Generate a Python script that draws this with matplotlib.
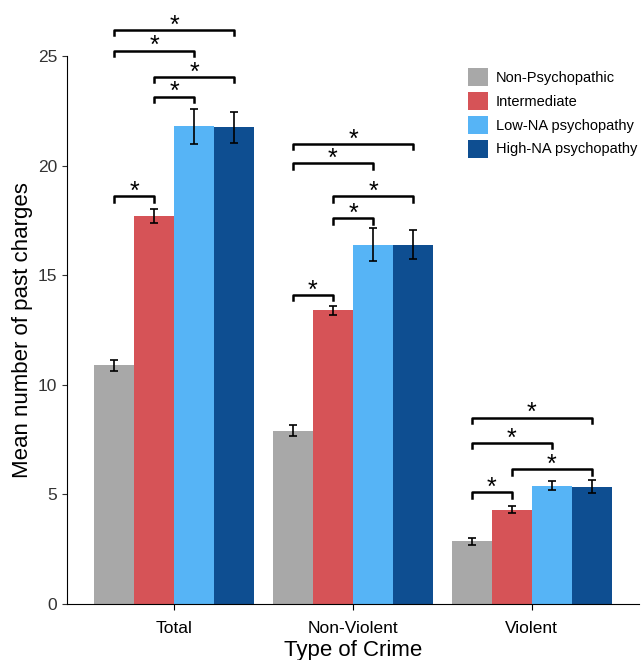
import numpy as np
import matplotlib
matplotlib.use("Agg")
import matplotlib.pyplot as plt
from matplotlib.patches import Patch

plt.rcParams['font.family'] = ['Liberation Sans', 'DejaVu Sans']

crime_types = ["Total", "Non-Violent", "Violent"]
groups = ["Non-Psychopathic", "Intermediate", "Low-NA psychopathy", "High-NA psychopathy"]
colors = ["#a8a8a8", "#d65357", "#56b4f6", "#0e4e91"]

# means per group, one value per crime type
means = {
    "Non-Psychopathic": [10.9, 7.9, 2.85],
    "Intermediate": [17.7, 13.4, 4.3],
    "Low-NA psychopathy": [21.8, 16.4, 5.4],
    "High-NA psychopathy": [21.75, 16.4, 5.35],
}
errors = {
    "Non-Psychopathic": [0.25, 0.25, 0.15],
    "Intermediate": [0.3, 0.2, 0.17],
    "Low-NA psychopathy": [0.8, 0.75, 0.22],
    "High-NA psychopathy": [0.7, 0.65, 0.3],
}

# significance brackets: (crime index, group a, group b, height)
brackets = [
    (0, 0, 1, 18.6), (0, 1, 2, 23.15), (0, 1, 3, 24.05), (0, 0, 2, 25.25), (0, 0, 3, 26.2),
    (1, 0, 1, 14.1), (1, 1, 2, 17.6), (1, 1, 3, 18.6), (1, 0, 2, 20.1), (1, 0, 3, 21.0),
    (2, 0, 1, 5.1), (2, 1, 3, 6.15), (2, 0, 2, 7.35), (2, 0, 3, 8.5),
]

width = 0.224
x = np.arange(len(crime_types))
offsets = (np.arange(len(groups)) - 1.5) * width

fig = plt.figure(figsize=(6.43, 6.6), dpi=100)
ax = fig.add_axes([0.104, 0.085, 0.89, 0.83])

for i, g in enumerate(groups):
    ax.bar(x + offsets[i], means[g], width, color=colors[i], label=g, zorder=2)
    ax.errorbar(x + offsets[i], means[g], yerr=errors[g], fmt='none', ecolor='black',
                elinewidth=1.2, capsize=3, capthick=1.2, zorder=3)

tick = 0.25
for ci, a, b, h in brackets:
    xa = x[ci] + offsets[a]
    xb = x[ci] + offsets[b]
    ax.plot([xa, xa, xb, xb], [h - tick, h, h, h - tick], color='black', lw=1.8,
            clip_on=False, zorder=4)
    ax.text((xa + xb) / 2, h - 0.12, "*", ha='center', va='baseline', fontsize=18,
            clip_on=False)

ax.set_xlim(-0.6, 2.6)
ax.set_ylim(0, 25)
ax.set_yticks([0, 5, 10, 15, 20, 25])
ax.set_xticks(x)
ax.set_xticklabels(crime_types, fontsize=12.5)
ax.tick_params(axis='y', labelsize=12.5, colors='#333333', labelcolor='#333333')
ax.tick_params(axis='x', length=4, pad=8)
ax.set_xlabel("Type of Crime", fontsize=16, labelpad=3)
ax.set_ylabel("Mean number of past charges", fontsize=16, labelpad=3)
ax.spines['top'].set_visible(False)
ax.spines['right'].set_visible(False)

handles = [Patch(facecolor=c, label=g) for c, g in zip(colors, groups)]
ax.legend(handles=handles, loc='upper left', bbox_to_anchor=(468 / 643, 1 - 68 / 660),
          bbox_transform=fig.transFigure, frameon=False, borderpad=0, borderaxespad=0,
          fontsize=10.5, handlelength=1.4, handleheight=1.5, handletextpad=0.5,
          labelspacing=0.42)

fig.savefig("out.png", dpi=100)
